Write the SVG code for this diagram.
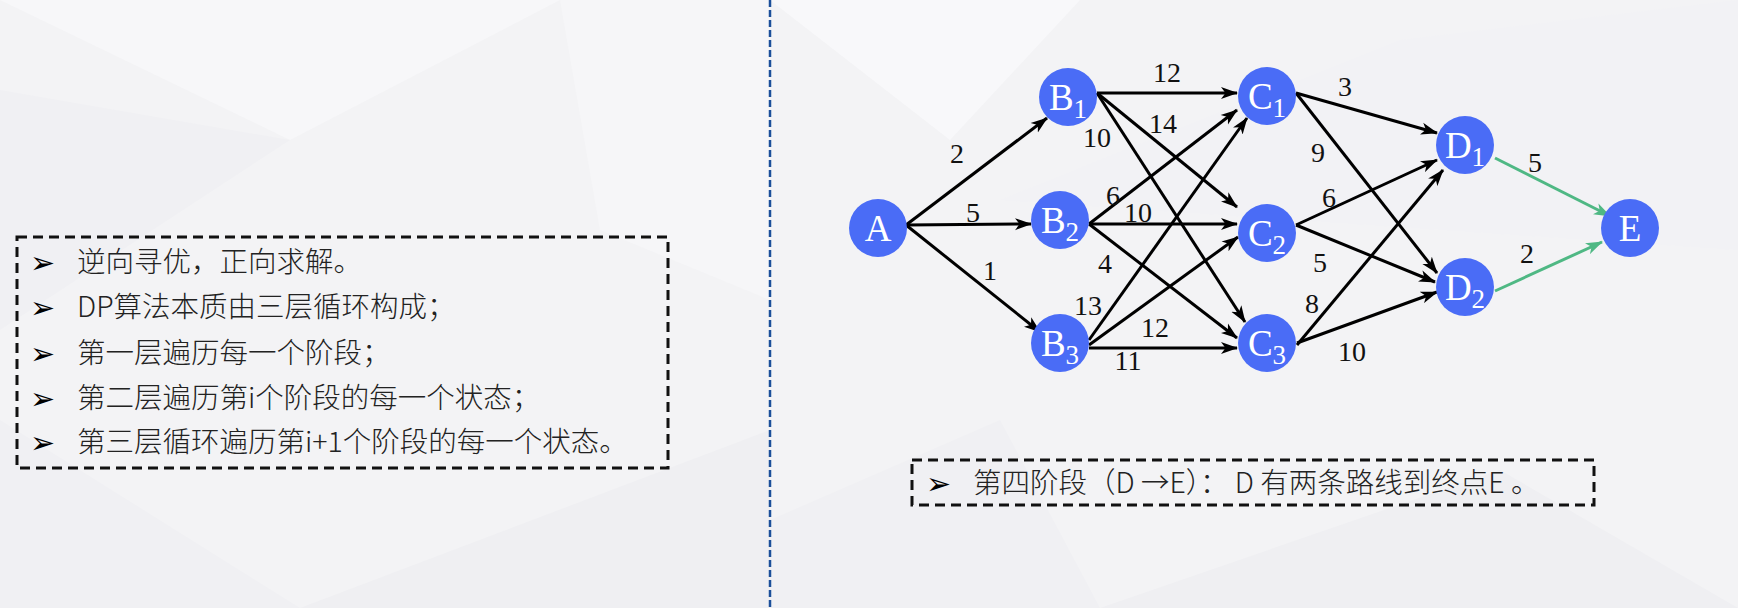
<svg xmlns="http://www.w3.org/2000/svg" width="1738" height="608" viewBox="0 0 1738 608">
<defs>
<marker id="ah" markerUnits="userSpaceOnUse" markerWidth="17" markerHeight="13" refX="16" refY="6.5" orient="auto">
<path d="M0,0.5 L17,6.5 L0,12.5 L4.5,6.5 z" fill="#000"/>
</marker>
<marker id="ahg" markerUnits="userSpaceOnUse" markerWidth="17" markerHeight="13" refX="16" refY="6.5" orient="auto">
<path d="M0,0.5 L17,6.5 L0,12.5 L4.5,6.5 z" fill="#4fb884"/>
</marker>
<style>
.node{fill:#4a6cf6}
.nl{font-family:"Liberation Serif","Times New Roman",serif;font-size:37px;fill:#fff;text-anchor:middle}
.sub{font-size:27px}
.el{font-family:"Liberation Serif","Times New Roman",serif;font-size:28px;fill:#111;text-anchor:middle}
.e{stroke:#000;stroke-width:3;fill:none;marker-end:url(#ah)}
.g{stroke:#4fb884;stroke-width:3;fill:none;marker-end:url(#ahg)}
.box{fill:none;stroke:#111;stroke-width:3;stroke-dasharray:10 6}
.tx{font-family:"Noto Sans CJK SC","Microsoft YaHei",sans-serif;font-weight:300;font-size:28.5px;fill:#222}
.bl{font-family:"DejaVu Sans",sans-serif;font-size:30px;fill:#000}
</style>
</defs>
<rect width="1738" height="608" fill="#f3f3f5"/>
<g id="bg">
<polygon points="0,0 560,0 290,140" fill="#f7f7f9"/>
<polygon points="0,90 290,140 0,330" fill="#f0f0f3"/>
<polygon points="560,0 770,0 770,300 600,230" fill="#f6f6f8"/>
<polygon points="0,420 300,608 0,608" fill="#f0f0f3"/>
<polygon points="300,608 770,430 770,608" fill="#efeff2"/>
<polygon points="770,0 1080,0 950,140" fill="#f8f8fa"/>
<polygon points="1000,200 1400,40 1738,0 1738,250" fill="#f2f2f5"/>
<polygon points="1100,608 1500,470 1738,608" fill="#efeff2"/>
<polygon points="770,520 1000,420 1100,608 770,608" fill="#f0f0f3"/>
</g>
<line id="divider" x1="770" y1="0" x2="770" y2="608" stroke="#1b4f9a" stroke-width="2.5" stroke-dasharray="7 3"/>
<g id="left-box">
<rect class="box" x="17" y="237" width="651" height="231"/>
<text class="bl" x="30" y="273">➢</text>
<text class="tx" x="77" y="272">逆向寻优，正向求解。</text>
<text class="bl" x="30" y="318">➢</text>
<text class="tx" x="77" y="317">DP算法本质由三层循环构成；</text>
<text class="bl" x="30" y="364">➢</text>
<text class="tx" x="77" y="363">第一层遍历每一个阶段；</text>
<text class="bl" x="30" y="409">➢</text>
<text class="tx" x="77" y="408">第二层遍历第i个阶段的每一个状态；</text>
<text class="bl" x="30" y="453">➢</text>
<text class="tx" x="77" y="452">第三层循环遍历第i+1个阶段的每一个状态。</text>
</g>
<g id="right-box">
<rect class="box" x="912" y="460" width="682" height="45"/>
<text class="bl" x="926" y="494">➢</text>
<text class="tx" x="973" y="493">第四阶段（D →E）： D 有两条路线到终点E 。</text>
</g>
<g id="connectors">
<line class="e" x1="906" y1="225" x2="1047" y2="118"/>
<line class="e" x1="906" y1="225" x2="1031" y2="224"/>
<line class="e" x1="906" y1="225" x2="1040" y2="332"/>
<line class="e" x1="1097" y1="93" x2="1237" y2="93"/>
<line class="e" x1="1097" y1="93" x2="1237" y2="207"/>
<line class="e" x1="1097" y1="93" x2="1245" y2="322"/>
<line class="e" x1="1089" y1="224" x2="1237" y2="110"/>
<line class="e" x1="1089" y1="224" x2="1237" y2="224"/>
<line class="e" x1="1089" y1="224" x2="1237" y2="338"/>
<line class="e" x1="1089" y1="340" x2="1247" y2="118"/>
<line class="e" x1="1089" y1="345" x2="1238" y2="237"/>
<line class="e" x1="1089" y1="348" x2="1237" y2="348"/>
<line class="e" x1="1296" y1="93" x2="1437" y2="133"/>
<line class="e" x1="1296" y1="93" x2="1437" y2="273"/>
<line class="e" x1="1296" y1="225" x2="1437" y2="160"/>
<line class="e" x1="1296" y1="225" x2="1435" y2="282"/>
<line class="e" x1="1297" y1="345" x2="1443" y2="170"/>
<line class="e" x1="1297" y1="343" x2="1437" y2="292"/>
<line class="g" x1="1495" y1="158" x2="1610" y2="216"/>
<line class="g" x1="1495" y1="291" x2="1602" y2="242"/>
<text class="el" x="957" y="163">2</text>
<text class="el" x="973" y="222">5</text>
<text class="el" x="990" y="280">1</text>
<text class="el" x="1167" y="82">12</text>
<text class="el" x="1163" y="133">14</text>
<text class="el" x="1097" y="147">10</text>
<text class="el" x="1113" y="205">6</text>
<text class="el" x="1138" y="222">10</text>
<text class="el" x="1105" y="273">4</text>
<text class="el" x="1088" y="315">13</text>
<text class="el" x="1155" y="337">12</text>
<text class="el" x="1128" y="370">11</text>
<text class="el" x="1345" y="96">3</text>
<text class="el" x="1318" y="162">9</text>
<text class="el" x="1329" y="207">6</text>
<text class="el" x="1320" y="272">5</text>
<text class="el" x="1312" y="313">8</text>
<text class="el" x="1352" y="361">10</text>
<text class="el" x="1535" y="172">5</text>
<text class="el" x="1527" y="263">2</text>
</g>
<g id="A"><circle class="node" cx="878" cy="228" r="29"/><text class="nl" x="878" y="241">A</text></g>
<g id="B1"><circle class="node" cx="1068" cy="97" r="29"/><text class="nl" x="1068" y="110">B<tspan class="sub" dy="8">1</tspan></text></g>
<g id="B2"><circle class="node" cx="1060" cy="220" r="29"/><text class="nl" x="1060" y="233">B<tspan class="sub" dy="8">2</tspan></text></g>
<g id="B3"><circle class="node" cx="1060" cy="343" r="29"/><text class="nl" x="1060" y="356">B<tspan class="sub" dy="8">3</tspan></text></g>
<g id="C1"><circle class="node" cx="1267" cy="96" r="29"/><text class="nl" x="1267" y="109">C<tspan class="sub" dy="8">1</tspan></text></g>
<g id="C2"><circle class="node" cx="1267" cy="233" r="29"/><text class="nl" x="1267" y="246">C<tspan class="sub" dy="8">2</tspan></text></g>
<g id="C3"><circle class="node" cx="1267" cy="343" r="29"/><text class="nl" x="1267" y="356">C<tspan class="sub" dy="8">3</tspan></text></g>
<g id="D1"><circle class="node" cx="1465" cy="145" r="29"/><text class="nl" x="1465" y="158">D<tspan class="sub" dy="8">1</tspan></text></g>
<g id="D2"><circle class="node" cx="1465" cy="287" r="29"/><text class="nl" x="1465" y="300">D<tspan class="sub" dy="8">2</tspan></text></g>
<g id="E"><circle class="node" cx="1630" cy="228" r="29"/><text class="nl" x="1630" y="241">E</text></g>
</svg>
